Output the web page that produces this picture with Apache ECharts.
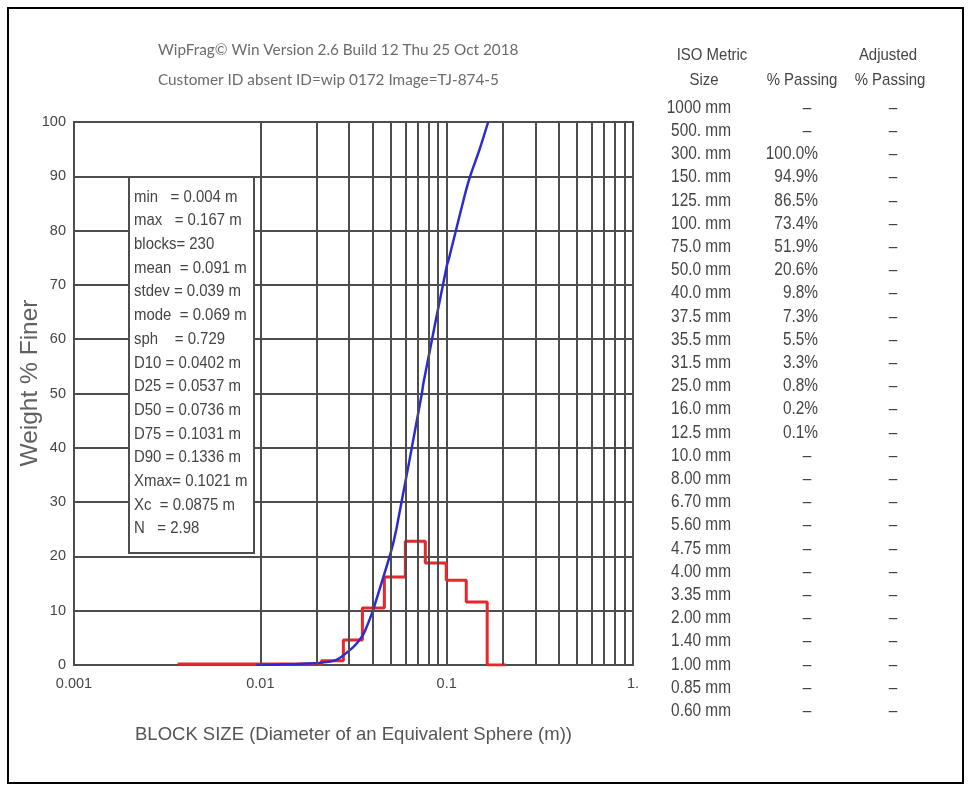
<!DOCTYPE html>
<html>
<head>
<meta charset="utf-8">
<title>WipFrag size distribution</title>
<script src="https://cdn.jsdelivr.net/npm/echarts@6/dist/echarts.min.js"></script>
<style>
  html, body { margin: 0; padding: 0; background: #fff; }
  #chart { width: 971px; height: 791px; }
</style>
</head>
<body>
<div id="chart"></div>
<script>
// ---- Header lines ----
const headerLines = [
  'WipFrag\u00A9 Win Version 2.6 Build 12 Thu 25 Oct 2018',
  'Customer ID absent ID=wip 0172 Image=TJ-874-5'
];

// ---- Summary statistics shown in the inset box ----
const statLines = [
  'min   = 0.004 m',
  'max   = 0.167 m',
  'blocks= 230',
  'mean  = 0.091 m',
  'stdev = 0.039 m',
  'mode  = 0.069 m',
  'sph    = 0.729',
  'D10 = 0.0402 m',
  'D25 = 0.0537 m',
  'D50 = 0.0736 m',
  'D75 = 0.1031 m',
  'D90 = 0.1336 m',
  'Xmax= 0.1021 m',
  'Xc  = 0.0875 m',
  'N   = 2.98'
];

// ---- Cumulative passing curve (size in m, weight % finer) ----
const cumSize = [0.0095, 0.0125, 0.016, 0.025, 0.0315, 0.0355, 0.0375, 0.040, 0.0402,
                 0.050, 0.0537, 0.0736, 0.075, 0.100, 0.1031, 0.125, 0.1336, 0.150, 0.167];
const cumPct  = [0, 0.1, 0.2, 0.8, 3.3, 5.5, 7.3, 9.8, 10,
                 20.6, 25, 50, 51.9, 73.4, 75, 86.5, 90, 94.9, 100];

// ---- Histogram of block sizes (bin edges in m, % per bin) ----
const binEdges = [0.0036, 0.0213, 0.0279, 0.0353, 0.0463, 0.060, 0.0768, 0.0995, 0.1274, 0.165, 0.2086];
const binPct   = [0.2, 0.8, 4.6, 10.5, 16.2, 22.8, 18.8, 15.6, 11.6, 0];

// ---- Axis tick labels ----
const xTickLabels = ['0.001', '0.01', '0.1', '1.'];
const yTicks = [0, 10, 20, 30, 40, 50, 60, 70, 80, 90, 100];

// ---- Sieve table ----
const isoSizes = ['1000 mm', '500. mm', '300. mm', '150. mm', '125. mm', '100. mm', '75.0 mm',
                  '50.0 mm', '40.0 mm', '37.5 mm', '35.5 mm', '31.5 mm', '25.0 mm', '16.0 mm',
                  '12.5 mm', '10.0 mm', '8.00 mm', '6.70 mm', '5.60 mm', '4.75 mm', '4.00 mm',
                  '3.35 mm', '2.00 mm', '1.40 mm', '1.00 mm', '0.85 mm', '0.60 mm'];
const pctPassing = ['--', '--', '100.0%', '94.9%', '86.5%', '73.4%', '51.9%', '20.6%', '9.8%',
                    '7.3%', '5.5%', '3.3%', '0.8%', '0.2%', '0.1%', '--', '--', '--', '--',
                    '--', '--', '--', '--', '--', '--', '--', '--'];
const adjPassing = isoSizes.map(() => '--');

// ---- Styling ----
const SANS = '"Liberation Sans", Arial, sans-serif';
const GRID_COLOR = '#4d4d4d';
const TEXT_COLOR = '#454545';
const NARROW_SCALE = 0.88;   // condensed look for the report text

// Vertical minor grid lines at 2..9 within each decade
const minorX = [];
[0.001, 0.01, 0.1].forEach(d => {
  for (let k = 2; k <= 9; k++) minorX.push(+(d * k).toPrecision(3));
});

// Step polyline of the histogram built from bin edges / values
const histPoints = [];
binPct.forEach((v, i) => {
  histPoints.push([binEdges[i], v]);
  histPoints.push([binEdges[i + 1], v]);
});

const cumPoints = cumSize.map((s, i) => [s, cumPct[i]]);

// Condensed text element helper
function narrowText(text, x, y, align, size, z) {
  return {
    type: 'text', z: z || 200, x, y, scaleX: NARROW_SCALE, scaleY: 1,
    style: { text, font: size + 'px ' + SANS, fill: TEXT_COLOR,
             textAlign: align, textVerticalAlign: 'middle' }
  };
}

const graphics = [];
// Outer frame
graphics.push({
  type: 'rect', z: 200, silent: true,
  shape: { x: 8, y: 8, width: 955, height: 775 },
  style: { fill: 'none', stroke: '#000', lineWidth: 2 }
});
// Header
headerLines.forEach((t, i) => {
  graphics.push({
    type: 'text', z: 200, x: 158, y: 50 + i * 30,
    style: { text: t, font: '15.3px Lato, "Open Sans", sans-serif', fill: '#6b6b6b',
             textAlign: 'left', textVerticalAlign: 'middle' }
  });
});
// Statistics box
graphics.push({
  type: 'rect', z: 150, silent: true,
  shape: { x: 129, y: 177, width: 125, height: 376 },
  style: { fill: '#fff', stroke: GRID_COLOR, lineWidth: 2 }
});
statLines.forEach((t, i) => {
  graphics.push(narrowText(t, 134, 197 + i * 23.7, 'left', 17, 160));
});
// Rotated y axis title
graphics.push({
  type: 'text', z: 200, x: 30, y: 383, rotation: Math.PI / 2,
  style: { text: 'Weight % Finer', font: '24.5px ' + SANS, fill: '#606060',
           textAlign: 'center', textVerticalAlign: 'middle' }
});
// Table headers
[
  ['ISO Metric', 712, 55], ['Size', 704, 80],
  ['% Passing', 802, 80], ['Adjusted', 888, 55], ['% Passing', 890, 80]
].forEach(([t, x, y]) => graphics.push(narrowText(t, x, y, 'center', 17)));
// Table rows
isoSizes.forEach((s, i) => {
  const y = 108 + i * 23.2;
  graphics.push(narrowText(s, 731, y, 'right', 17.5));
  const p = pctPassing[i];
  if (p === '--') graphics.push(narrowText('\u2013', 807, y, 'center', 17.5));
  else graphics.push(narrowText(p, 818, y, 'right', 17.5));
  const a = adjPassing[i];
  graphics.push(narrowText(a === '--' ? '\u2013' : a, 893, y, 'center', 17.5));
});

const chart = echarts.init(document.getElementById('chart'), null, { renderer: 'canvas' });
chart.setOption({
  backgroundColor: '#fff',
  animation: false,
  grid: { left: 74, top: 122, width: 559, height: 543, show: true,
          borderColor: GRID_COLOR, borderWidth: 2, backgroundColor: 'transparent' },
  xAxis: {
    type: 'log', logBase: 10, min: 0.001, max: 1,
    name: 'BLOCK SIZE (Diameter of an Equivalent Sphere (m))',
    nameLocation: 'middle', nameGap: 60,
    nameTextStyle: { fontFamily: SANS, fontSize: 18.5, color: '#555' },
    axisLine: { show: false }, axisTick: { show: false },
    axisLabel: { margin: 11, fontFamily: SANS, fontSize: 14.5, color: TEXT_COLOR,
                 formatter: v => xTickLabels[Math.round(Math.log10(v)) + 3] },
    splitLine: { show: true, lineStyle: { color: GRID_COLOR, width: 2 } }
  },
  yAxis: {
    type: 'value', min: 0, max: 100, interval: 10,
    axisLine: { show: false }, axisTick: { show: false },
    axisLabel: { margin: 8, fontFamily: SANS, fontSize: 14.5, color: TEXT_COLOR,
                 formatter: v => (yTicks.includes(v) ? String(v) : '') },
    splitLine: { show: true, lineStyle: { color: GRID_COLOR, width: 2 } }
  },
  graphic: graphics,
  series: [
    {
      name: 'minor grid', type: 'line', data: [], z: 1, silent: true,
      markLine: {
        silent: true, symbol: ['none', 'none'], label: { show: false },
        lineStyle: { color: GRID_COLOR, width: 2, type: 'solid' },
        data: minorX.map(v => ({ xAxis: v }))
      }
    },
    {
      name: 'histogram', type: 'line', data: histPoints, z: 3,
      showSymbol: false, symbol: 'none',
      lineStyle: { color: '#e8262b', width: 3 }
    },
    {
      name: 'cumulative', type: 'line', data: cumPoints, z: 4,
      showSymbol: false, symbol: 'none', smooth: 0.3,
      lineStyle: { color: '#2b2bd6', width: 2.5 }
    }
  ]
});
</script>
</body>
</html>
